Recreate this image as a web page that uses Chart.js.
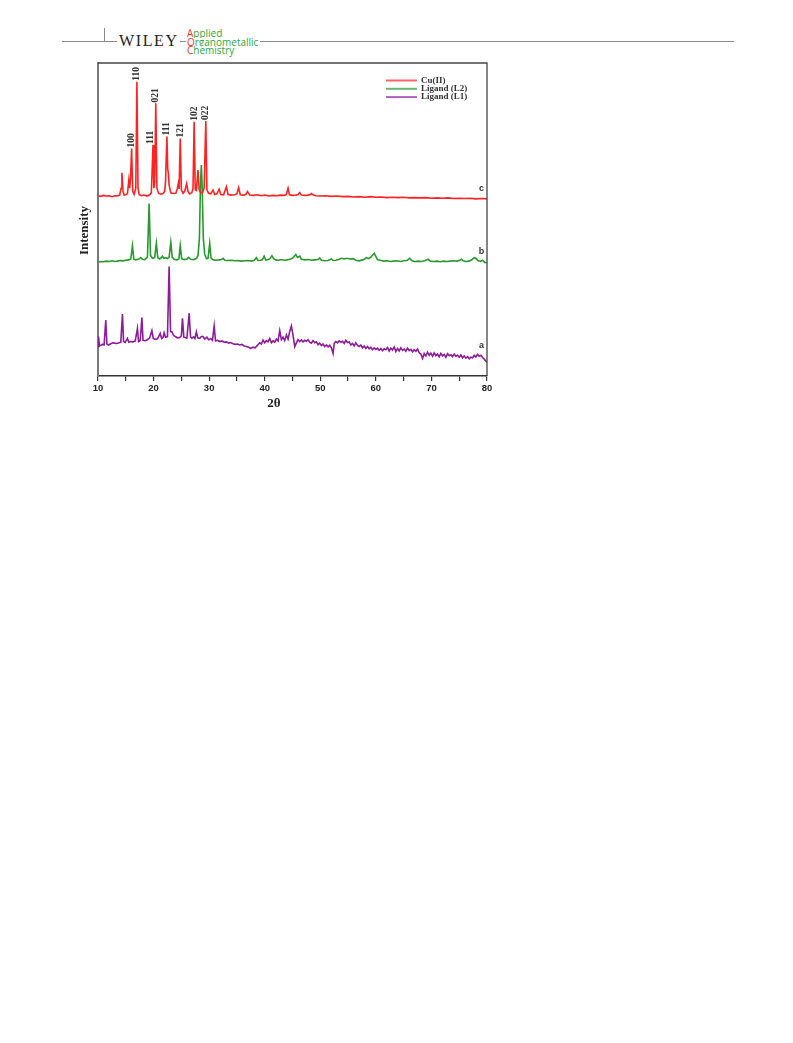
<!DOCTYPE html>
<html>
<head>
<meta charset="utf-8">
<script src="https://cdn.jsdelivr.net/npm/chart.js@4.4.0/dist/chart.umd.min.js"></script>
<style>
  html, body { margin: 0; padding: 0; background: #fff; }
  #page { position: relative; width: 793px; height: 1043px; overflow: hidden; background: #fff; }
  .hline { position: absolute; left: 62px; top: 41px; width: 672px; height: 0; border-top: 1.3px solid #8a8a8a; }
  .vline { position: absolute; left: 104px; top: 28px; width: 0; height: 13px; border-left: 1px solid #8a8a8a; }
  .wiley { position: absolute; left: 117px; top: 33px; font: 16px/16px "Liberation Serif", serif; letter-spacing: 1.6px; color: #222; background: #fff; padding: 0 1px 0 2px; }
  .aoc { position: absolute; left: 186px; top: 29px; font: 10px/8.6px "Open Sans", sans-serif; color: #2fa53c; }
  .aoc span.l { display: inline-block; background: #fff; padding: 0 2px 0 1px; }
  .aoc b { font-weight: normal; color: #e8341f; }
  #wrap { position: absolute; left: 0; top: 0; width: 793px; height: 430px; }
</style>
</head>
<body>
<div id="page">
  <div class="hline"></div>
  <div class="vline"></div>
  <div class="wiley">WILEY</div>
  <div class="aoc"><span class="l"><b>A</b>pplied</span><br><span class="l"><b>O</b>rganometallic</span><br><span class="l"><b>C</b>hemistry</span></div>
  <div id="wrap"><canvas id="c"></canvas></div>
</div>
<script>
// ---- data (2θ in degrees, intensity in arbitrary units with offsets) ----
const seriesLabels = ['Cu(II)', 'Ligand (L2)', 'Ligand (L1)'];
const curveTags = ['c', 'b', 'a'];
const xTickValues = [10, 20, 30, 40, 50, 60, 70, 80];

const cuPattern = [
  [10.0,57.6],[10.5,57.4],[11.0,57.7],[11.5,57.5],[12.0,57.6],[12.5,57.3],[13.0,57.6],[13.5,57.5],[13.9,57.8],
  [14.15,60.0],[14.3,64.9],[14.5,59.0],[14.7,57.8],[15.0,57.9],[15.3,58.3],[15.55,62.6],[15.7,60.0],[15.85,63.0],
  [16.05,72.7],[16.25,59.0],[16.5,58.0],[16.8,60.0],[17.0,94.0],[17.2,60.0],[17.4,58.0],[17.8,57.6],[18.3,57.8],
  [18.8,57.5],[19.3,57.9],[19.6,58.5],[19.9,73.8],[20.05,60.0],[20.2,62.0],[20.4,87.1],[20.6,60.0],[20.9,58.4],
  [21.3,58.1],[21.7,58.3],[22.0,59.0],[22.15,62.0],[22.4,76.5],[22.55,66.0],[22.65,65.0],[22.8,61.0],[23.1,58.5],
  [23.5,58.3],[24.0,58.4],[24.3,60.0],[24.45,61.5],[24.6,59.8],[24.8,75.9],[25.0,59.5],[25.3,58.4],[25.6,59.0],
  [25.95,61.5],[26.2,59.0],[26.5,58.2],[26.9,58.6],[27.1,60.0],[27.3,81.2],[27.5,59.5],[27.7,59.3],[28.0,65.8],
  [28.2,59.6],[28.5,58.5],[28.8,58.6],[29.1,60.0],[29.4,81.5],[29.6,59.5],[29.9,58.4],[30.3,58.2],[30.7,59.4],
  [31.0,58.0],[31.4,58.2],[31.8,59.7],[32.1,58.0],[32.6,57.9],[33.1,60.5],[33.4,58.0],[34.0,57.8],[34.6,57.9],
  [35.0,58.2],[35.3,60.2],[35.6,57.9],[36.2,57.8],[36.6,58.0],[36.9,58.9],[37.3,57.8],[38.0,57.7],[38.7,57.9],
  [39.4,57.6],[40.0,57.8],[40.7,57.5],[41.4,57.7],[42.1,57.6],[42.8,57.8],[43.5,57.7],[43.9,58.0],[44.2,60.0],
  [44.45,57.9],[45.0,57.7],[45.6,57.8],[46.0,58.0],[46.3,58.6],[46.6,57.8],[47.2,57.7],[47.8,57.8],[48.2,58.0],
  [48.4,58.3],[48.7,57.9],[49.2,57.6],[50,57.5],[51,57.6],[52,57.4],[53,57.5],[54,57.3],[55,57.4],[56,57.2],
  [57,57.3],[58,57.1],[59,57.3],[60,57.1],[61,57.2],[62,57.0],[63,57.1],[64,57.0],[65,57.1],[66,56.9],[67,57.0],
  [68,56.9],[69,57.0],[70,56.8],[71,56.9],[72,56.8],[73,56.9],[74,56.7],[75,56.8],[76,56.7],[77,56.8],[78,56.6],
  [79,56.7],[80,56.6]
];

const l2Pattern = [
  [10,36.4],[10.5,36.6],[11,36.5],[11.5,36.7],[12,36.6],[12.5,36.8],[13,36.6],[13.5,36.7],[14,36.9],[14.5,36.8],
  [15,37.0],[15.5,37.1],[15.9,37.4],[16.2,41.6],[16.45,37.3],[16.8,37.1],[17.2,37.3],[17.5,37.5],[17.7,37.8],
  [18.0,37.3],[18.4,37.2],[18.9,38.0],[19.2,55.1],[19.45,38.5],[19.8,37.6],[20.2,37.8],[20.5,42.4],[20.75,37.8],
  [21.1,37.4],[21.4,37.8],[21.6,38.3],[21.85,37.6],[22.2,37.8],[22.5,37.5],[22.8,38.0],[23.1,42.7],[23.35,38.0],
  [23.7,37.3],[24.2,37.1],[24.55,37.4],[24.8,41.6],[25.05,37.5],[25.5,37.2],[26.0,37.4],[26.3,37.9],[26.7,37.3],
  [27.2,37.2],[27.7,37.5],[28.0,38.5],[28.25,44.0],[28.45,62.0],[28.6,67.4],[28.75,60.0],[28.95,44.0],[29.2,39.0],
  [29.5,37.5],[29.8,37.6],[30.1,42.4],[30.35,37.6],[30.8,37.1],[31.3,37.0],[31.8,37.1],[32.2,37.2],[32.5,37.6],
  [32.8,37.0],[33.4,36.9],[34,37.0],[34.6,36.8],[35.2,36.9],[35.8,36.7],[36.4,36.8],[37,36.9],[37.6,36.7],
  [38.1,37.0],[38.5,37.8],[38.8,36.9],[39.3,37.0],[39.6,37.2],[39.9,38.3],[40.2,37.0],[40.7,37.2],[41.0,37.6],
  [41.3,38.4],[41.6,37.5],[42.0,37.1],[42.5,37.0],[43.0,37.2],[43.5,37.0],[44,37.1],[44.5,37.3],[45,37.6],
  [45.3,38.2],[45.6,38.8],[45.9,37.9],[46.3,38.3],[46.6,37.3],[47.2,37.1],[47.8,37.2],[48.4,37.0],[49,37.1],
  [49.6,37.2],[49.9,37.7],[50.2,37.0],[50.8,36.8],[51.4,36.9],[52,37.4],[52.3,36.9],[52.8,37.0],[53.3,37.2],
  [53.8,37.6],[54.3,37.4],[54.8,37.6],[55.3,37.4],[55.9,37.5],[56.4,37.0],[57,36.8],[57.6,37.1],[58.0,37.4],
  [58.3,37.8],[58.7,37.5],[59.1,38.0],[59.4,38.6],[59.7,39.2],[60.0,38.2],[60.3,37.1],[60.8,37.0],[61.4,36.7],
  [62,36.8],[62.6,36.6],[63.2,36.7],[63.8,36.8],[64.4,36.6],[65,36.8],[65.6,36.9],[66.1,37.6],[66.5,36.8],
  [67,36.6],[67.6,36.7],[68.2,36.6],[68.8,36.8],[69.4,37.3],[69.8,36.7],[70.4,36.6],[71,36.7],[71.6,36.5],
  [72.2,36.7],[72.8,36.6],[73.4,36.7],[74,36.8],[74.6,36.7],[75.1,37.0],[75.4,37.3],[75.7,36.8],[76.2,36.6],
  [76.8,36.7],[77.3,37.2],[77.7,37.8],[78.0,37.6],[78.4,36.9],[78.8,36.6],[79.2,37.0],[79.6,36.3],[80,36.2]
];

const l1Pattern = [
  [10.0,9.4],[10.1,12.6],[10.25,9.6],[10.5,9.8],[10.8,10.1],[11.1,10.0],[11.4,17.9],[11.6,10.2],[11.9,9.9],
  [12.3,10.3],[12.7,10.6],[13.0,10.5],[13.4,10.4],[13.8,10.6],[14.1,10.8],[14.4,19.8],[14.6,11.0],[14.9,10.7],
  [15.3,12.0],[15.55,10.8],[15.9,11.0],[16.3,10.9],[16.7,11.2],[17.1,15.2],[17.3,11.0],[17.6,11.3],[17.9,18.7],
  [18.1,11.4],[18.5,11.3],[18.9,11.6],[19.3,12.2],[19.7,14.5],[19.95,12.0],[20.3,11.7],[20.7,11.9],[21.2,13.6],
  [21.45,12.0],[21.7,12.3],[21.9,13.8],[22.15,12.4],[22.5,12.6],[22.8,35.0],[23.05,14.2],[23.3,14.1],[23.6,13.0],
  [23.9,12.6],[24.3,12.2],[24.7,12.3],[25.0,12.8],[25.2,18.4],[25.45,12.4],[25.7,12.3],[26.0,12.1],[26.4,20.0],
  [26.65,12.5],[26.9,12.1],[27.2,12.5],[27.45,12.0],[27.7,14.1],[27.95,12.2],[28.3,12.0],[28.6,12.6],[28.9,12.6],
  [29.2,11.8],[29.6,12.4],[29.9,11.6],[30.3,11.9],[30.6,11.4],[30.9,16.0],[31.15,11.2],[31.5,11.4],[31.9,11.0],
  [32.3,11.2],[32.7,10.8],[33.1,10.9],[33.5,10.5],[33.9,10.7],[34.3,10.3],[34.7,10.1],[35.1,10.2],[35.5,9.9],
  [35.9,10.1],[36.3,9.6],[36.7,9.4],[37.1,9.2],[37.5,8.8],[37.9,9.2],[38.3,9.0],[38.7,9.8],[39.1,10.6],[39.4,10.2],
  [39.7,11.5],[40.0,10.6],[40.3,11.3],[40.6,10.9],[40.9,12.0],[41.2,10.6],[41.5,11.2],[41.8,10.8],[42.1,11.8],
  [42.4,11.2],[42.7,14.5],[43.0,11.6],[43.3,12.4],[43.6,11.3],[43.9,13.1],[44.2,11.8],[44.5,14.2],[44.8,16.0],
  [45.1,13.0],[45.4,9.4],[45.7,10.6],[46.0,11.6],[46.3,11.0],[46.6,11.5],[46.9,10.9],[47.2,11.4],[47.5,11.1],
  [47.8,11.6],[48.1,10.8],[48.4,10.5],[48.7,11.3],[49.0,10.6],[49.3,10.9],[49.6,10.0],[49.9,10.5],[50.2,9.7],
  [50.5,10.2],[50.8,9.4],[51.1,9.9],[51.4,9.3],[51.7,9.8],[52.0,9.0],[52.3,7.2],[52.5,10.4],[52.8,11.0],
  [53.1,10.6],[53.4,11.2],[53.7,10.8],[54.0,11.1],[54.3,10.4],[54.6,11.4],[54.9,10.7],[55.2,10.9],[55.5,9.9],
  [55.8,10.4],[56.1,9.6],[56.4,10.6],[56.7,9.8],[57.0,9.4],[57.3,9.9],[57.6,9.0],[57.9,9.6],[58.2,8.8],[58.5,9.4],
  [58.8,8.7],[59.1,9.2],[59.4,8.4],[59.7,9.0],[60.0,8.5],[60.3,8.9],[60.6,8.2],[60.9,8.8],[61.2,8.1],[61.5,8.7],
  [61.8,8.4],[62.1,9.1],[62.4,8.0],[62.7,8.9],[63.0,8.3],[63.3,9.3],[63.6,7.8],[63.9,8.8],[64.2,8.0],[64.5,9.0],
  [64.8,8.2],[65.1,8.6],[65.4,7.9],[65.7,8.9],[66.0,8.1],[66.3,8.5],[66.6,7.7],[66.9,8.4],[67.2,7.9],[67.5,8.6],
  [67.8,7.4],[68.1,7.0],[68.4,5.6],[68.7,7.2],[69.0,6.4],[69.3,7.6],[69.6,6.6],[69.9,7.3],[70.2,6.3],[70.5,7.4],
  [70.8,6.5],[71.1,7.0],[71.4,6.1],[71.7,7.2],[72.0,6.4],[72.3,6.9],[72.6,6.0],[72.9,7.1],[73.2,6.5],[73.5,6.8],
  [73.8,6.2],[74.1,7.0],[74.4,6.3],[74.7,6.6],[75.0,6.0],[75.3,6.7],[75.6,5.8],[75.9,6.4],[76.2,5.7],[76.5,6.2],
  [76.8,5.5],[77.1,6.0],[77.4,5.8],[77.7,6.6],[78.0,6.1],[78.3,6.9],[78.6,6.3],[78.9,6.6],[79.2,5.9],[79.5,5.4],
  [79.8,4.7],[80.0,4.4]
];

// Miller indices labelling the Cu(II) reflections, and the 2θ where each label sits
const peakHkl   = ['100', '110', '111', '021', '111', '121', '102', '022'];
const peakTheta = [16.0, 17.0, 19.45, 20.4, 22.4, 24.8, 27.3, 29.4];

const seriesColors = ['#ff2222', '#2a982e', '#8c1c98'];
const patterns = [cuPattern, l2Pattern, l1Pattern];

const decor = {
  id: 'decor',
  afterDraw(chart) {
    const { ctx, chartArea: a, scales: { x, y } } = chart;
    ctx.save();
    // top & right frame
    ctx.strokeStyle = '#444';
    ctx.lineWidth = 1.3;
    ctx.beginPath();
    ctx.moveTo(a.left, a.top);
    ctx.lineTo(a.right, a.top);
    ctx.lineTo(a.right, a.bottom);
    ctx.stroke();

    // hkl labels, rotated, sitting on top of each reflection
    ctx.fillStyle = '#333';
    ctx.font = 'bold 9.5px "Liberation Serif", serif';
    peakHkl.forEach((t, i) => {
      const th = peakTheta[i];
      let top = -Infinity;
      cuPattern.forEach(([px, py]) => { if (Math.abs(px - th) <= 0.5) top = Math.max(top, py); });
      const X = x.getPixelForValue(th), Y = y.getPixelForValue(top);
      ctx.save();
      ctx.translate(X, Y - 1);
      ctx.rotate(-Math.PI / 2);
      ctx.textAlign = 'left';
      ctx.textBaseline = 'middle';
      ctx.fillText(t, 0, 0);
      ctx.restore();
    });

    // curve tags a, b, c near right end
    ctx.font = 'bold 9px "Liberation Sans", sans-serif';
    ctx.textAlign = 'center';
    ctx.textBaseline = 'middle';
    patterns.forEach((p, i) => {
      let near = p.reduce((m, q) => Math.abs(q[0] - 79) < Math.abs(m[0] - 79) ? q : m, p[0]);
      const X = x.getPixelForValue(79), Y = y.getPixelForValue(near[1]);
      ctx.fillText(curveTags[i], X, Y - 10);
    });

    // legend (inside plot, upper right)
    ctx.font = 'bold 9px "Liberation Serif", serif';
    ctx.textAlign = 'left';
    seriesLabels.forEach((lab, i) => {
      const yy = a.top + 17.5 + i * 8.3;
      ctx.globalAlpha = 0.7;
      ctx.strokeStyle = seriesColors[i];
      ctx.lineWidth = 2;
      ctx.beginPath();
      ctx.moveTo(a.right - 101, yy);
      ctx.lineTo(a.right - 70, yy);
      ctx.stroke();
      ctx.globalAlpha = 1;
      ctx.fillStyle = '#333';
      ctx.fillText(lab, a.right - 66, yy);
    });

    // axis titles
    ctx.fillStyle = '#222';
    ctx.font = 'bold 13px "Liberation Serif", serif';
    ctx.save();
    ctx.translate(a.left - 13, (a.top + a.bottom) / 2 + 11);
    ctx.rotate(-Math.PI / 2);
    ctx.textAlign = 'center';
    ctx.textBaseline = 'middle';
    ctx.fillText('Intensity', 0, 0);
    ctx.restore();

    ctx.textAlign = 'center';
    ctx.textBaseline = 'middle';
    ctx.fillText('2θ', a.left + 176, a.bottom + 28);
    ctx.restore();
  }
};

new Chart(document.getElementById('c'), {
  type: 'line',
  data: {
    datasets: patterns.map((p, i) => ({
      label: seriesLabels[i],
      data: p.map(([t, v]) => ({ x: t, y: v })),
      borderColor: seriesColors[i],
      backgroundColor: seriesColors[i],
      borderWidth: 1.6,
      pointRadius: 0,
      tension: 0,
      fill: false
    }))
  },
  options: {
    responsive: true,
    maintainAspectRatio: false,
    animation: false,
    layout: { padding: { left: 60, right: 306, top: 63, bottom: 14 } },
    plugins: { legend: { display: false }, tooltip: { enabled: false } },
    scales: {
      x: {
        type: 'linear', min: 10, max: 80,
        afterBuildTicks: (s) => {
          const t = [];
          for (let v = 10; v <= 80; v += 5) t.push({ value: v });
          s.ticks = t;
        },
        ticks: {
          autoSkip: false, maxRotation: 0, padding: 2, color: '#222',
          font: { family: '"Liberation Sans", sans-serif', size: 9.5, weight: 'bold' },
          callback: (v) => xTickValues.includes(v) ? String(v) : ''
        },
        grid: { drawOnChartArea: false, drawTicks: true, tickLength: 5, color: '#333', lineWidth: 1.2 },
        border: { display: true, color: '#333', width: 1.5 },
        afterFit: (s) => { s.height = 40; }
      },
      y: {
        min: 0, max: 100,
        ticks: { display: false },
        grid: { display: false },
        border: { display: true, color: '#7a7a7a', width: 2 },
        afterFit: (s) => { s.width = 38; }
      }
    }
  },
  plugins: [decor]
});
</script>
</body>
</html>
